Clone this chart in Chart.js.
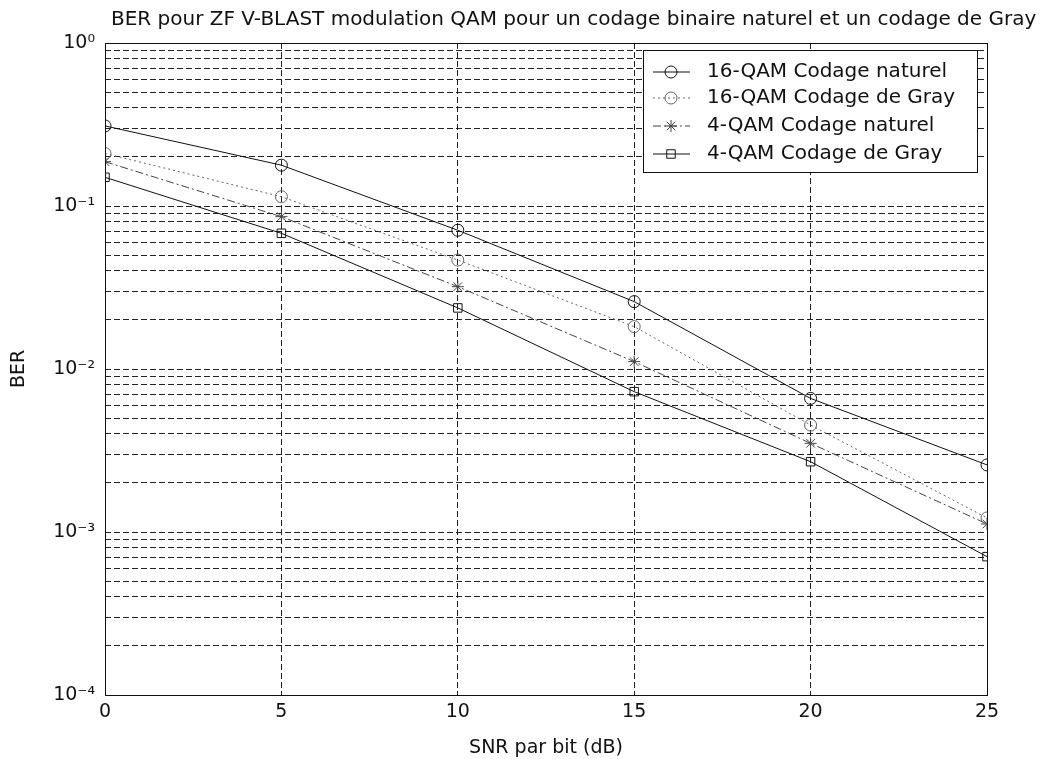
<!DOCTYPE html>
<html>
<head>
<meta charset="utf-8">
<script src="https://cdn.jsdelivr.net/npm/chart.js@4/dist/chart.umd.min.js"></script>
<style>
  html, body { margin: 0; padding: 0; background: #fff; }
  #wrap { width: 1043px; height: 759px; position: relative; }
</style>
</head>
<body>
<div id="wrap"><canvas id="berChart"></canvas></div>
<script>
// SNR par bit (dB)
const snr = [0, 5, 10, 15, 20, 25];
// BER
const ber16Naturel = [0.31, 0.178, 0.071, 0.0259, 0.0066, 0.00258];
const ber16Gray    = [0.21, 0.114, 0.0466, 0.0182, 0.00453, 0.00122];
const ber4Naturel  = [0.187, 0.086, 0.032, 0.0111, 0.0035, 0.00112];
const ber4Gray     = [0.15, 0.068, 0.0237, 0.00726, 0.0027, 0.000706];

const seriesNames = ['16-QAM Codage naturel', '16-QAM Codage de Gray', '4-QAM Codage naturel', '4-QAM Codage de Gray'];
const xTicks = [0, 5, 10, 15, 20, 25];
const yExponents = [-4, -3, -2, -1, 0];
const yTickLabels = ['10\u207B\u2074', '10\u207B\u00B3', '10\u207B\u00B2', '10\u207B\u00B9', '10\u2070'];
const chartTitle = 'BER pour ZF V-BLAST modulation QAM pour un codage binaire naturel et un codage de Gray';

const FONT = "'DejaVu Sans', 'Liberation Sans', sans-serif";

const toPoints = (arr) => snr.map((x, i) => ({ x: x, y: arr[i] }));

// gridlines at every 1..9 x 10^e like matlab
const yGrid = [];
yExponents.forEach(e => {
  if (e === 0) { yGrid.push(1); return; }
  for (let m = 1; m <= 9; m++) yGrid.push(m * Math.pow(10, e));
});

const titlePlugin = {
  id: 'matlabTitle',
  afterDraw(chart) {
    const ctx = chart.ctx;
    ctx.save();
    ctx.font = '20px ' + FONT;
    ctx.fillStyle = '#111';
    ctx.textAlign = 'left';
    ctx.textBaseline = 'middle';
    ctx.fillText(chartTitle, 111, 20);
    ctx.restore();
  }
};

const boxPlugin = {
  id: 'axesBox',
  afterDatasetsDraw(chart) {
    const a = chart.chartArea;
    const ctx = chart.ctx;
    ctx.save();
    ctx.strokeStyle = '#111';
    ctx.lineWidth = 1;
    ctx.strokeRect(a.left + 0.5, a.top + 0.5, a.right - a.left, a.bottom - a.top);
    ctx.restore();
  }
};

const legendPlugin = {
  id: 'insideLegend',
  afterDraw(chart) {
    const ctx = chart.ctx;
    const x0 = 643, y0 = 50, x1 = 977, y1 = 172;
    ctx.save();
    ctx.fillStyle = '#fff';
    ctx.fillRect(x0, y0, x1 - x0, y1 - y0);
    ctx.strokeStyle = '#111';
    ctx.lineWidth = 1;
    ctx.setLineDash([]);
    ctx.strokeRect(x0 + 0.5, y0 + 0.5, x1 - x0, y1 - y0);
    const rows = [72, 98, 126, 154];
    chart.data.datasets.forEach((ds, i) => {
      const y = rows[i];
      ctx.strokeStyle = ds.borderColor;
      ctx.lineWidth = ds.borderWidth;
      ctx.setLineDash(ds.borderDash || []);
      ctx.beginPath();
      ctx.moveTo(653, y);
      ctx.lineTo(690, y);
      ctx.stroke();
      ctx.setLineDash([]);
      ctx.fillStyle = 'rgba(0,0,0,0)';
      ctx.strokeStyle = ds.pointBorderColor;
      Chart.helpers.drawPoint(ctx, {
        pointStyle: ds.pointStyle,
        radius: ds.pointRadius,
        borderWidth: 1
      }, 671, y);
      ctx.fillStyle = '#111';
      ctx.font = '20px ' + FONT;
      ctx.textAlign = 'left';
      ctx.textBaseline = 'middle';
      ctx.fillText(ds.label, 707, y);
    });
    ctx.restore();
  }
};

const makeSet = (label, data, color, dash, style) => ({
  label: label,
  data: toPoints(data),
  borderColor: color,
  backgroundColor: 'rgba(0,0,0,0)',
  pointBorderColor: color,
  pointBackgroundColor: 'rgba(0,0,0,0)',
  borderWidth: 1,
  borderDash: dash,
  pointStyle: style,
  pointRadius: 6,
  pointBorderWidth: 1,
  tension: 0
});

new Chart(document.getElementById('berChart'), {
  type: 'line',
  data: {
    datasets: [
      makeSet(seriesNames[0], ber16Naturel, '#111', [], 'circle'),
      makeSet(seriesNames[1], ber16Gray, '#666', [2, 3], 'circle'),
      makeSet(seriesNames[2], ber4Naturel, '#444', [8, 3, 2, 3], 'star'),
      makeSet(seriesNames[3], ber4Gray, '#111', [], 'rect')
    ]
  },
  options: {
    responsive: true,
    maintainAspectRatio: false,
    animation: false,
    layout: { padding: { top: 43, right: 56, left: 0, bottom: 0 } },
    plugins: {
      legend: { display: false },
      title: { display: false },
      tooltip: { enabled: false }
    },
    scales: {
      x: {
        type: 'linear',
        min: 0,
        max: 25,
        afterFit(scale) { scale.height = 64; },
        afterBuildTicks(scale) { scale.ticks = xTicks.map(v => ({ value: v })); },
        ticks: {
          color: '#111',
          font: { family: FONT, size: 19 },
          padding: 6,
          maxRotation: 0
        },
        grid: { color: '#222', lineWidth: 1, drawTicks: false },
        border: { display: false, dash: [6, 3] },
        title: {
          display: true,
          text: 'SNR par bit (dB)',
          color: '#111',
          font: { family: FONT, size: 19 },
          padding: { top: 6, bottom: 0 }
        }
      },
      y: {
        type: 'logarithmic',
        min: 1e-4,
        max: 1,
        afterFit(scale) { scale.width = 105; },
        afterBuildTicks(scale) { scale.ticks = yGrid.map(v => ({ value: v })); },
        ticks: {
          autoSkip: false,
          color: '#111',
          font: { family: FONT, size: 19 },
          padding: 10,
          callback(value) {
            const e = Math.round(Math.log10(value));
            if (Math.abs(Math.log10(value) - e) > 1e-6) return '';
            const k = yExponents.indexOf(e);
            return k >= 0 ? yTickLabels[k] : '';
          }
        },
        grid: { color: '#222', lineWidth: 1, drawTicks: false },
        border: { display: false, dash: [6, 3] },
        title: {
          display: true,
          text: 'BER',
          color: '#111',
          font: { family: FONT, size: 19 },
          padding: { top: 8, bottom: 0 }
        }
      }
    }
  },
  plugins: [boxPlugin, legendPlugin, titlePlugin]
});
</script>
</body>
</html>
